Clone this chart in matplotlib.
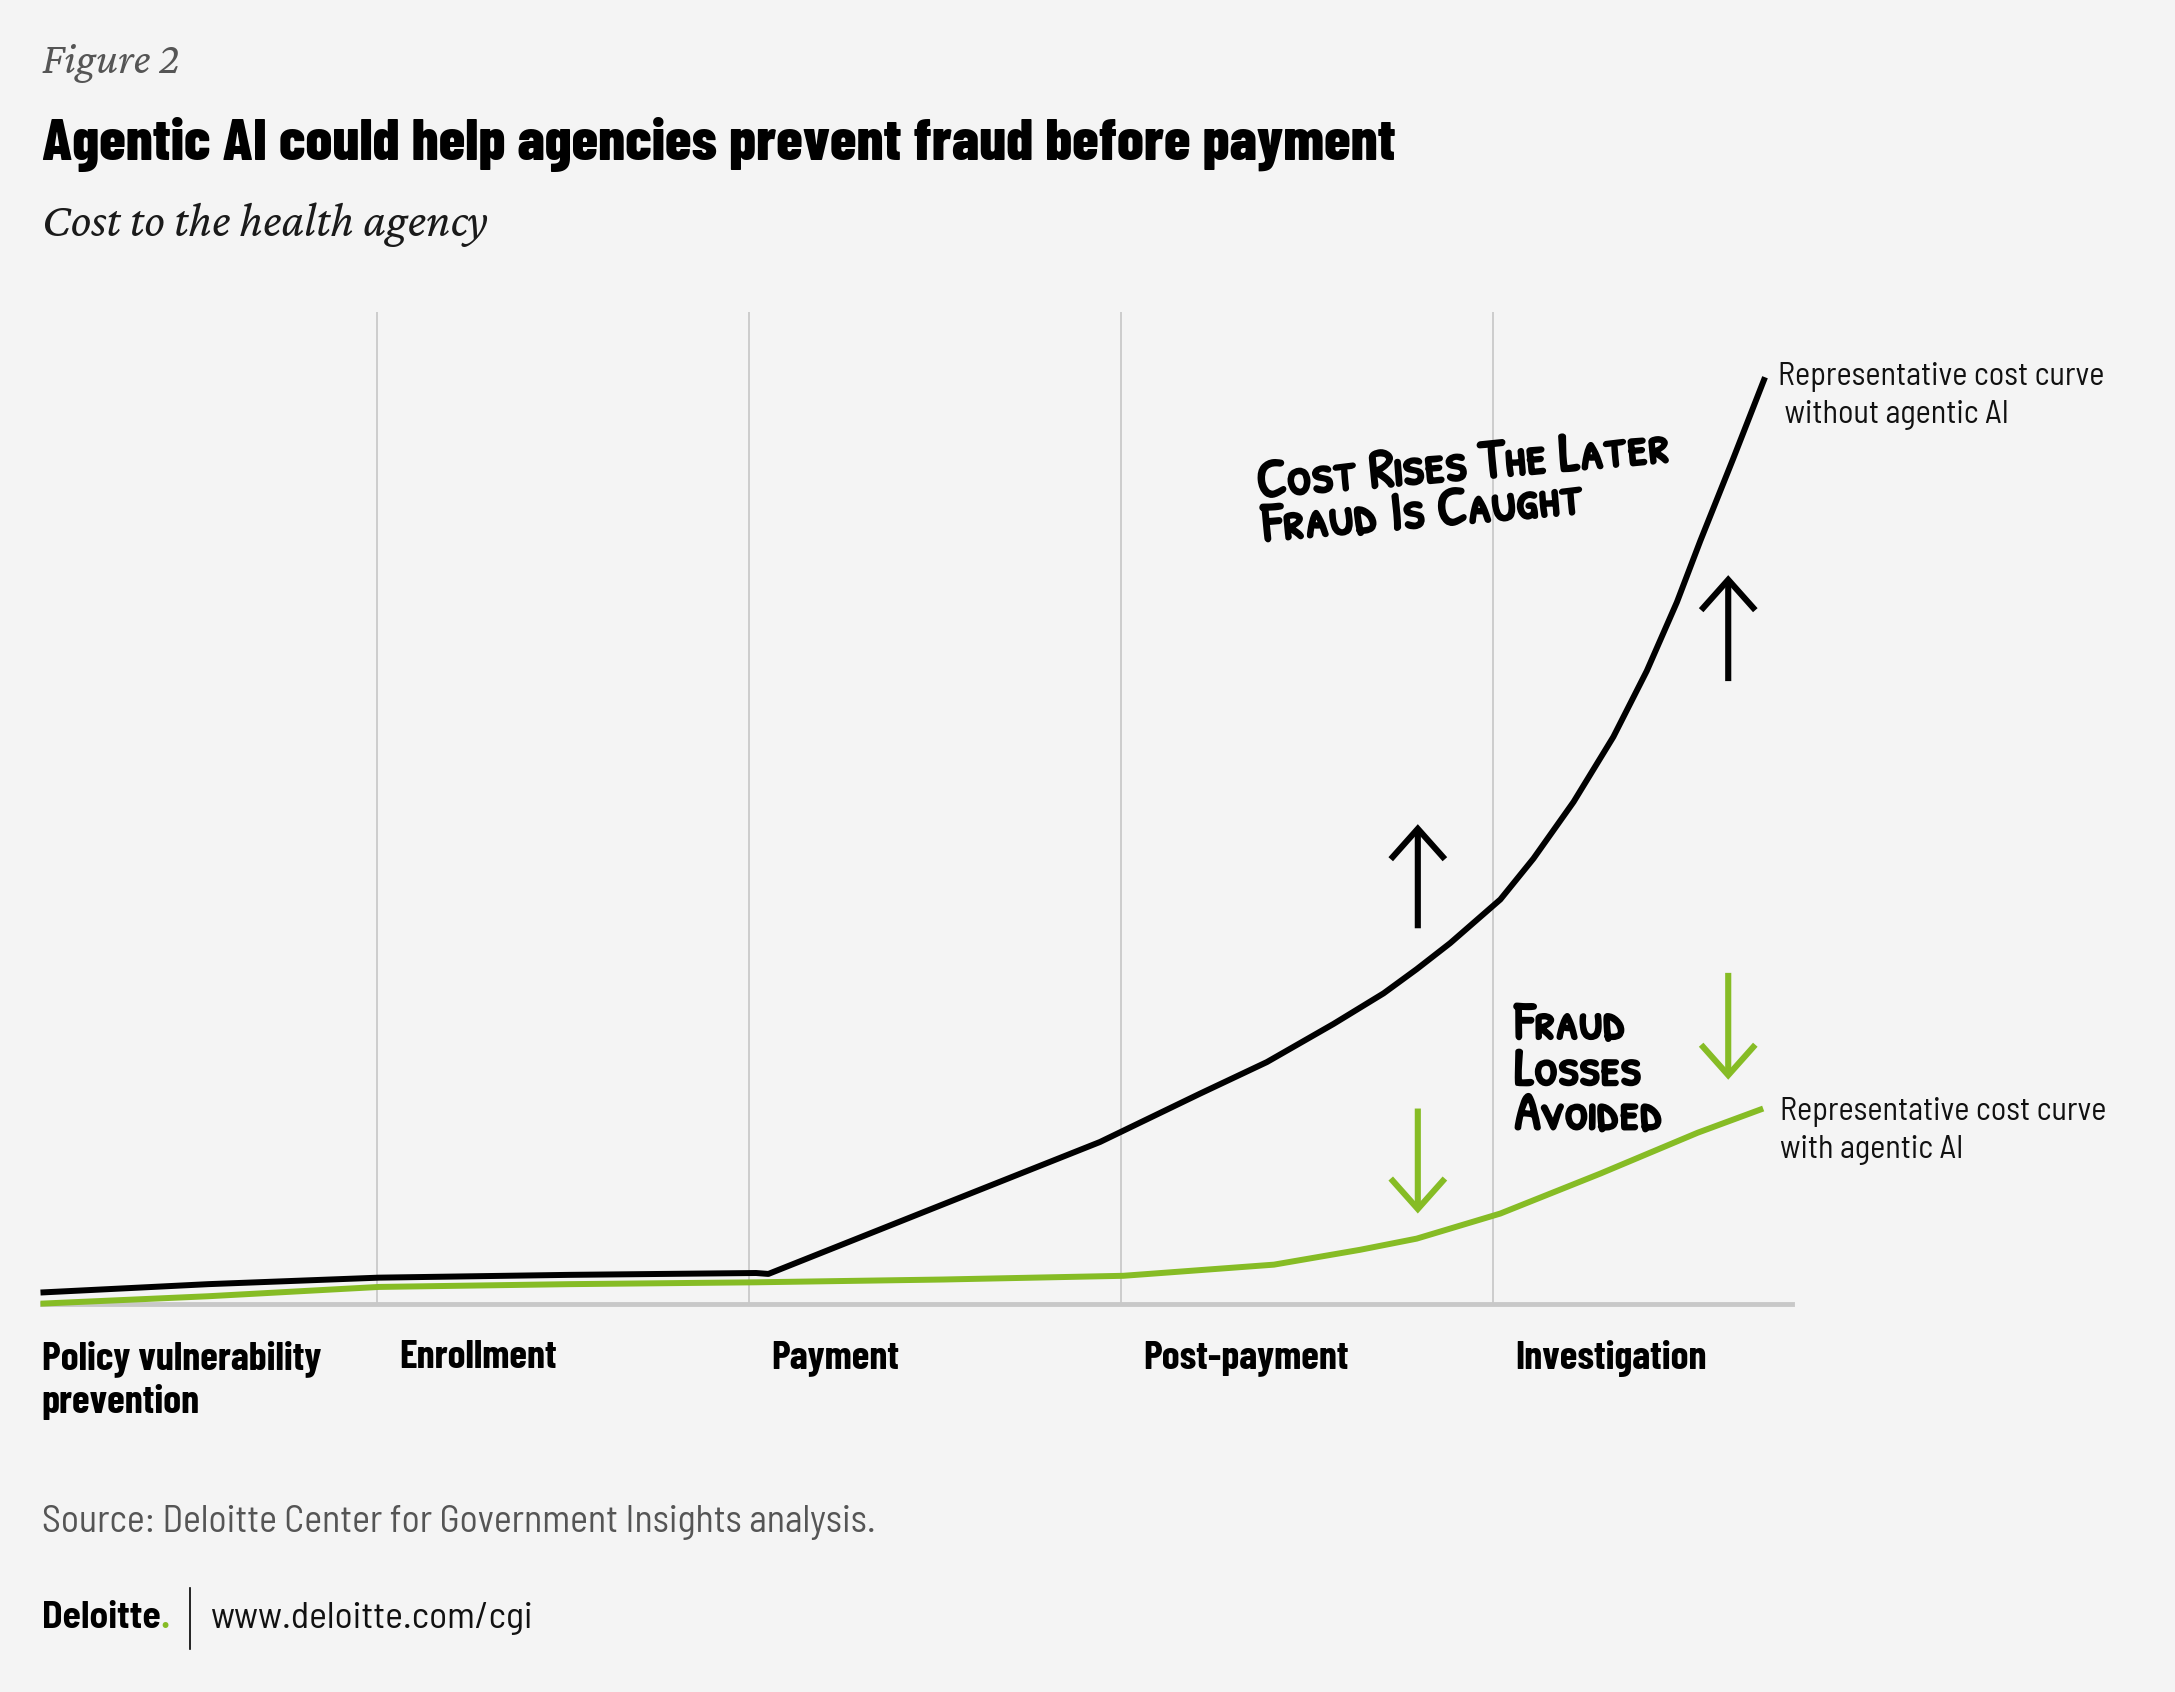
import matplotlib
matplotlib.use('Agg')
from matplotlib import pyplot as plt
from matplotlib.lines import Line2D
from matplotlib import patheffects


BG = '#f4f4f4'
GREEN = '#86bc25'
GRID = '#cccccc'
BOLD = ['Barlow Condensed', 'DejaVu Sans']
BODY = ['Barlow Semi Condensed', 'Barlow Condensed', 'DejaVu Sans']
SERIF = ['Crimson Pro', 'Liberation Serif', 'DejaVu Serif']
HAND = ['Patrick Hand SC', 'DejaVu Sans']

# reference is laid out on a 1568 x 1220 grid
W, H = 1568.0, 1220.0

stages = ['Policy vulnerability\nprevention', 'Enrollment', 'Payment',
          'Post-payment', 'Investigation']
stage_lines = [1, 2, 3, 4]

# cost curve without agentic AI
x_without = [0.094, 0.545, 1.004, 1.515, 2.019, 2.052, 2.485, 2.944, 3.213,
             3.393, 3.572, 3.707, 3.796, 3.886, 4.021, 4.110, 4.218, 4.325,
             4.415, 4.496, 4.559, 4.648, 4.733]
cost_without = [1.2, 2.1, 2.8, 3.1, 3.3, 3.2, 10.1, 17.4, 22.6,
                26.0, 30.1, 33.4, 36.0, 38.8, 43.5, 47.9, 54.0, 61.0,
                68.1, 75.5, 82.1, 91.0, 99.7]

# cost curve with agentic AI
x_with = [0.094, 0.545, 1.004, 1.515, 2.019, 2.522, 3.007, 3.412, 3.644,
          3.796, 4.021, 4.290, 4.552, 4.728]
cost_with = [0.0, 0.8, 1.8, 2.1, 2.3, 2.6, 3.0, 4.2, 5.8,
             7.0, 9.7, 14.0, 18.4, 21.0]

# arrows: x position, tail, head
arrow_x = [3.799, 4.634]
up_tail = [40.4, 67.0]
up_head = [51.6, 78.4]
down_tail = [21.0, 35.6]
down_head = [9.7, 24.1]


def fy(py):
    return 1.0 - py/H


def fx(px):
    return px/W


def draw_arrow(ax, x, tail, head, color):
    ax.annotate('', xy=(x, head), xytext=(x, tail),
                arrowprops=dict(arrowstyle='->,head_length=0.73,head_width=0.65',
                                color=color, lw=4.4, shrinkA=0, shrinkB=0,
                                mutation_scale=30, capstyle='butt',
                                joinstyle='miter'))


def hand_text(fig, x, y, s, size=38, **kw):
    t = fig.text(fx(x), fy(y), s, fontsize=size, family=HAND, color='black', **kw)
    t.set_path_effects([patheffects.withStroke(linewidth=2.0, foreground='black')])
    return t


def do_plot():
    fig = plt.figure(figsize=(21.75, 16.92), dpi=100, facecolor=BG)

    ax = fig.add_axes([fx(30), fy(940), fx(1292-30), (940-225)/H])
    ax.set_facecolor(BG)
    ax.axis('off')
    ax.set_xlim((30-272)/268.0+1, (1292-272)/268.0+1)
    ax.set_ylim(0, (940-225)/6.7)

    for x in stage_lines:
        ax.axvline(x, color=GRID, lw=1.4, zorder=1)
    ax.axhline(0, color='#c8c8c8', lw=3.5, zorder=1, clip_on=False)

    ax.plot(x_without, cost_without, '-', color='black', lw=4.3,
            solid_joinstyle='round', solid_capstyle='butt', zorder=3,
            clip_on=False)
    ax.plot(x_with, cost_with, '-', color=GREEN, lw=4.3,
            solid_joinstyle='round', solid_capstyle='butt', zorder=3,
            clip_on=False)

    for i in range(len(arrow_x)):
        draw_arrow(ax, arrow_x[i], up_tail[i], up_head[i], 'black')
        draw_arrow(ax, arrow_x[i], down_tail[i], down_head[i], GREEN)

    # stage labels
    starts = [ax.get_xlim()[0]] + stage_lines
    for i, name in enumerate(stages):
        dx = 0 if i == 0 else 16
        ax.annotate(name, xy=(starts[i], 0), xycoords=('data', 'axes fraction'),
                    xytext=(dx, -26), textcoords='offset points',
                    ha='left', va='top', fontsize=29, fontweight='bold',
                    family=BOLD, color='black', linespacing=1.25)

    # curve labels
    ax.annotate('Representative cost curve\n without agentic AI',
                xy=(x_without[-1], cost_without[-1]), xytext=(9, 11),
                textcoords='offset points', ha='left', va='top',
                fontsize=23.2, family=BODY, color='#111111', linespacing=1.35)
    ax.annotate('Representative cost curve\nwith agentic AI',
                xy=(x_with[-1], cost_with[-1]), xytext=(12, 8),
                textcoords='offset points', ha='left', va='top',
                fontsize=23.2, family=BODY, color='#111111', linespacing=1.35)

    # handwritten notes
    hand_text(fig, 906, 346, 'Cost Rises The Later', size=39.5, rotation=5,
              rotation_mode='anchor', ha='left', va='center')
    hand_text(fig, 910, 378, 'Fraud Is Caught', size=39.5, rotation=5,
              rotation_mode='anchor', ha='left', va='center')
    hand_text(fig, 1092, 770, 'Fraud\nLosses\nAvoided', ha='left',
              va='center', linespacing=1.3)

    # headings
    fig.text(fx(30), fy(45), 'Figure 2', fontsize=32, style='italic',
             family=SERIF, color='#555555', va='center')
    fig.text(fx(30), fy(104), 'Agentic AI could help agencies prevent fraud before payment',
             fontsize=43, fontweight=800, family=BOLD, color='black',
             va='center')
    fig.text(fx(30), fy(162), 'Cost to the health agency', fontsize=35,
             style='italic', family=SERIF, color='#1a1a1a', va='center')

    # footer
    fig.text(fx(30), fy(1098), 'Source: Deloitte Center for Government Insights analysis.',
             fontsize=27.2, family=BODY, color='#555555', va='center')
    logo = fig.text(fx(30), fy(1167), 'Deloitte', fontsize=27,
                    fontweight='bold', family=BODY, color='black',
                    va='center')
    fig.canvas.draw()
    bb = logo.get_window_extent()
    fig.text(bb.x1/fig.bbox.width, fy(1167), '.', fontsize=27,
             fontweight='bold', family=BODY, color=GREEN, va='center')
    fig.add_artist(Line2D([fx(137), fx(137)], [fy(1145), fy(1189)],
                          color='black', lw=1.2))
    fig.text(fx(152), fy(1167), 'www.deloitte.com/cgi', fontsize=27.1,
             family=BODY, color='#111111', va='center')

    fig.savefig('out.png', dpi=100, facecolor=BG)
    plt.close(fig)


if __name__ == '__main__':
    do_plot()
